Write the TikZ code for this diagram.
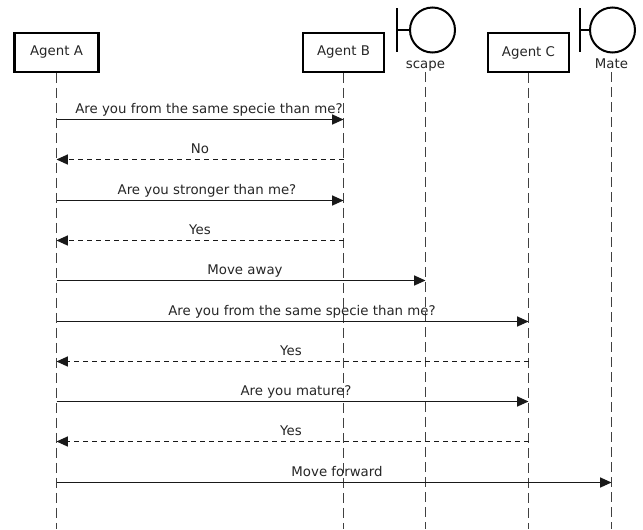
\documentclass[tikz,border=0pt]{standalone}
\usepackage{fontspec}
\setmainfont{DejaVu Sans}
\usetikzlibrary{arrows.meta}
\begin{document}
\begin{tikzpicture}[x=0.75pt,y=-0.75pt,
  actor/.style={draw, line width=1.6pt, minimum width=61pt, minimum height=29pt, inner sep=0pt, font=\fontsize{10}{12}\selectfont, text=black!85},
  lbl/.style={font=\fontsize{10}{12}\selectfont, inner sep=0pt, text=black!85},
  life/.style={line width=0.9pt, dash pattern=on 7.5pt off 3.75pt, black!75},
  req/.style={line width=0.9pt, black!90, -{Triangle[length=8.5pt,width=7.5pt]}},
  rep/.style={line width=0.9pt, black!90, dash pattern=on 3.75pt off 3pt, -{Triangle[length=8.5pt,width=7.5pt]}},
  bnd/.style={line width=1.5pt}]
\useasboundingbox (0,0) rectangle (643,529);
% participants
\node[actor, minimum width=63pt] (A) at (56.5,52.5) {Agent A};
\node[actor] (B) at (343.5,52.5) {Agent B};
\node[actor] (C) at (528.5,52.5) {Agent C};
\node[lbl, anchor=base] (S) at (425.5,68) {scape};
\node[lbl, anchor=base] (M) at (611.5,68) {Mate};
% boundary symbols
\draw[bnd] (397,8) -- (397,52);
\draw[bnd] (397,30) -- (410,30);
\draw[bnd] (432.5,30) circle[radius=22.5];
\draw[bnd] (580,8) -- (580,52);
\draw[bnd] (580,30) -- (590,30);
\draw[bnd] (612.5,30) circle[radius=22.5];
% lifelines
\coordinate (Aend) at (56.5,529);
\coordinate (Bend) at (343.5,529);
\coordinate (Cend) at (528.5,529);
\coordinate (Send) at (425.5,529);
\coordinate (Mend) at (611.5,529);
\draw[life] (A.south) -- (Aend);
\draw[life] (B.south) -- (Bend);
\draw[life] (C.south) -- (Cend);
\draw[life] (S.south |- 0,72) -- (Send);
\draw[life] (M.south |- 0,72) -- (Mend);
% messages
\draw[req] (A |- 0,119.5) -- (B |- 0,119.5);
\node[lbl, anchor=base] (m1) at (209,113) {Are you from the same specie than me?};
\draw[rep] (B |- 0,159.5) -- (A |- 0,159.5);
\node[lbl, anchor=base] (m2) at (200,153) {No};
\draw[req] (A |- 0,200.5) -- (B |- 0,200.5);
\node[lbl, anchor=base] (m3) at (207,194) {Are you stronger than me?};
\draw[rep] (B |- 0,240.5) -- (A |- 0,240.5);
\node[lbl, anchor=base] (m4) at (200,234) {Yes};
\draw[req] (A |- 0,280.5) -- (Send |- 0,280.5);
\node[lbl, anchor=base] (m5) at (245,274) {Move away};
\draw[req] (A |- 0,321.5) -- (C |- 0,321.5);
\node[lbl, anchor=base] (m6) at (302,315) {Are you from the same specie than me?};
\draw[rep] (C |- 0,361.5) -- (A |- 0,361.5);
\node[lbl, anchor=base] (m7) at (291,355) {Yes};
\draw[req] (A |- 0,401.5) -- (C |- 0,401.5);
\node[lbl, anchor=base] (m8) at (296,395) {Are you mature?};
\draw[rep] (C |- 0,441.5) -- (A |- 0,441.5);
\node[lbl, anchor=base] (m9) at (291,435) {Yes};
\draw[req] (A |- 0,482.5) -- (Mend |- 0,482.5);
\node[lbl, anchor=base] (m10) at (337,476) {Move forward};
\end{tikzpicture}
\end{document}
